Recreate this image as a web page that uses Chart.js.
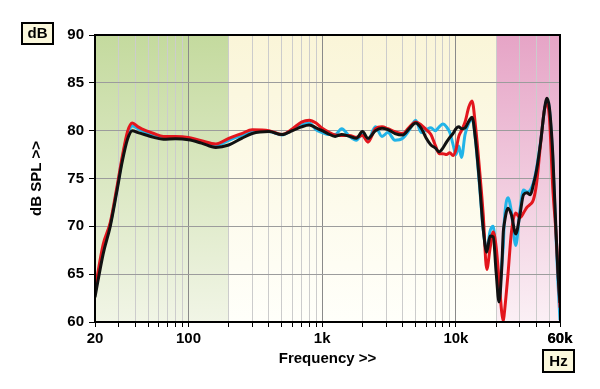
<!DOCTYPE html>
<html>
<head>
<meta charset="utf-8">
<script src="https://cdn.jsdelivr.net/npm/chart.js@4.4.1/dist/chart.umd.min.js"></script>
<style>
  html, body { margin: 0; padding: 0; background: #ffffff; }
  #wrap { width: 600px; height: 389px; position: relative; }
</style>
</head>
<body>
<div id="wrap"><canvas id="freqChart" width="600" height="389"></canvas></div>
<script>
// measured frequency response, three runs
const freqs = [20, 23, 26, 29, 32, 35, 38, 42, 48, 55, 65, 80, 100, 125, 160, 200, 250, 300, 400, 500,
  600, 700, 800, 900, 1000, 1100, 1250, 1400, 1600, 1800, 2000, 2200, 2500, 2800, 3100, 3500, 4000, 4500,
  5000, 5500, 6000, 6500, 7000, 7500, 8000, 8500, 9000, 9500, 10000, 10500, 11000, 11700, 12500, 13200,
  14000, 15000, 16000, 17000, 18000, 19000, 20000, 21000, 22000, 22600, 23000, 24500, 26000, 28000, 30000,
  32000, 34000, 36000, 38000, 40000, 43000, 46000, 48000, 50000, 53000, 56000, 58000, 60000];

const blackSpl = [62.6, 67.1, 70.0, 73.5, 76.8, 79.1, 80.0, 79.8, 79.55, 79.3, 79.1, 79.15, 79.05, 78.7, 78.25, 78.5, 79.2, 79.7, 79.9, 79.6,
  80.0, 80.4, 80.6, 80.3, 80.0, 79.7, 79.4, 79.6, 79.4, 79.2, 79.9, 79.2, 80.0, 80.25, 80.1, 79.7, 79.55, 80.25,
  80.8, 80.25, 79.2, 78.5, 78.2, 77.8, 78.2, 78.8, 79.3, 79.7, 80.2, 80.4, 80.2, 80.3, 81.0, 81.4,
  79.1, 74.6, 69.7, 67.3, 69.0, 68.9, 65.1, 62.1, 65.6, 69.4, 70.3, 71.9, 71.2, 69.2, 71.1,
  73.3, 73.5, 73.3, 74.4, 75.8, 78.8, 82.3, 83.4, 82.4, 77.5, 69.5, 65.0, 62.0];

const redSpl = [63.4, 68.1, 70.4, 73.9, 77.3, 79.9, 80.8, 80.4, 80.0, 79.7, 79.4, 79.4, 79.3, 78.95, 78.6, 79.2, 79.7, 80.1, 80.0, 79.6,
  80.2, 80.9, 81.1, 80.8, 80.25, 79.9, 79.55, 79.5, 79.5, 79.3, 79.5, 78.8, 80.2, 80.4, 80.2, 79.9, 79.7, 80.4,
  80.9, 80.6, 80.1, 79.6, 78.5, 77.6, 77.6, 77.5, 77.7, 77.4, 78.0, 79.4, 80.0, 80.9, 82.5, 83.1,
  80.5, 76.0, 71.2, 65.5, 67.7, 69.4, 67.8, 64.4, 61.0, 60.1, 60.9, 65.0, 69.4, 71.4, 70.9,
  71.4, 72.0, 72.3, 72.8, 74.4, 78.7, 82.3, 82.8, 81.4, 74.0, 69.3, 65.3, 61.5];

const blueSpl = [63.0, 67.6, 70.2, 73.7, 77.1, 79.6, 80.5, 80.2, 79.8, 79.55, 79.3, 79.3, 79.2, 78.85, 78.45, 79.0, 79.5, 79.9, 79.9, 79.55,
  80.1, 80.6, 80.8, 80.1, 79.8, 79.6, 79.6, 80.2, 79.4, 79.0, 79.7, 79.0, 80.4, 79.4, 79.8, 79.0, 79.2, 80.1,
  81.1, 79.8, 80.1, 80.3, 80.0, 80.4, 80.7, 80.4, 79.8, 78.6, 77.5, 78.4, 77.2, 79.6, 80.8, 81.3,
  79.0, 74.3, 69.6, 67.6, 69.5, 70.0, 66.5, 63.0, 66.0, 68.0, 70.5, 73.0, 71.5, 68.0, 71.5,
  73.8, 73.6, 73.8, 74.6, 76.0, 78.9, 82.3, 83.2, 82.2, 77.0, 69.0, 64.0, 60.2];

// axis labels
const xLabelValues = [20, 100, 1000, 10000, 60000];
const xLabelText = ['20', '100', '1k', '10k', '60k'];
const xMajorLines = [100, 1000, 10000];
const yTicks = [60, 65, 70, 75, 80, 85, 90];

// shaded frequency bands (Hz)
const bandEdges = [20, 200, 20000, 60000];

// grid lines at 20,30..90,100,200..
const xGrid = [];
for (let dec = 10; dec <= 10000; dec *= 10) {
  for (let m = 1; m <= 9; m++) {
    const v = m * dec;
    if (v >= 20 && v <= 60000) xGrid.push(v);
  }
}
xGrid.push(60000);

const FONT = '"Liberation Sans", Arial, sans-serif';

function toPoints(arr) {
  return freqs.map((f, i) => ({ x: f, y: arr[i] }));
}

function band(ctx, a, xa, xb, top, bottom) {
  const g = ctx.createLinearGradient(0, a.top, 0, a.bottom);
  g.addColorStop(0, top);
  g.addColorStop(1, bottom);
  ctx.fillStyle = g;
  ctx.fillRect(xa, a.top, xb - xa, a.bottom - a.top);
}

const bandsPlugin = {
  id: 'bands',
  beforeDraw(chart) {
    const { ctx, chartArea: a, scales: { x } } = chart;
    const px = bandEdges.map(v => x.getPixelForValue(v));
    ctx.save();
    band(ctx, a, px[0], px[1], '#c4da9e', '#f1f5e6');
    band(ctx, a, px[1], px[2], '#faf5d8', '#fffffa');
    band(ctx, a, px[2], px[3], '#e6a4c6', '#fbf0f5');
    ctx.restore();
  },
  afterDraw(chart) {
    const { ctx, chartArea: a } = chart;
    ctx.save();
    ctx.strokeStyle = '#000';
    ctx.lineWidth = 2;
    ctx.strokeRect(a.left, a.top, a.right - a.left, a.bottom - a.top);
    // unit boxes
    ctx.font = 'bold 15px ' + FONT;
    ctx.textAlign = 'center';
    ctx.textBaseline = 'middle';
    ctx.fillStyle = '#fbf8dc';
    ctx.fillRect(22, 23, 31, 21);
    ctx.strokeRect(22, 23, 31, 21);
    ctx.fillStyle = '#000';
    ctx.fillText('dB', 37.5, 34);
    ctx.fillStyle = '#fbf8dc';
    ctx.fillRect(543, 350, 31, 22);
    ctx.strokeRect(543, 350, 31, 22);
    ctx.fillStyle = '#000';
    ctx.fillText('Hz', 558.5, 361.5);
    ctx.restore();
  }
};

const ctx = document.getElementById('freqChart').getContext('2d');
const freqChart = new Chart(ctx, {
  type: 'line',
  data: {
    datasets: [
      { label: 'black', data: toPoints(blackSpl), borderColor: '#111111', borderWidth: 3 },
      { label: 'red', data: toPoints(redSpl), borderColor: '#e3161d', borderWidth: 3 },
      { label: 'blue', data: toPoints(blueSpl), borderColor: '#22b4e8', borderWidth: 3 }
    ]
  },
  options: {
    responsive: false,
    animation: false,
    layout: { padding: { left: 0, right: 40, top: 35, bottom: 0 } },
    elements: {
      point: { radius: 0 },
      line: { cubicInterpolationMode: 'monotone', fill: false }
    },
    plugins: { legend: { display: false }, tooltip: { enabled: false } },
    scales: {
      x: {
        type: 'logarithmic',
        min: 20,
        max: 60000,
        afterBuildTicks: (scale) => { scale.ticks = xGrid.map(v => ({ value: v })); },
        afterFit: (scale) => { scale.height = 67; },
        grid: {
          color: (c) => (c.tick && xMajorLines.includes(c.tick.value)) ? '#8a8a8a' : '#cccccc',
          lineWidth: 1,
          tickColor: '#000',
          tickLength: 5
        },
        border: { color: '#000', width: 2 },
        ticks: {
          autoSkip: false,
          maxRotation: 0,
          padding: 3,
          color: '#000',
          font: { family: FONT, size: 15, weight: 'bold' },
          callback: (v) => {
            const i = xLabelValues.indexOf(v);
            return i >= 0 ? xLabelText[i] : '';
          }
        },
        title: {
          display: true,
          text: 'Frequency >>',
          color: '#000',
          font: { family: FONT, size: 15, weight: 'bold' },
          padding: { top: 0, bottom: 21 }
        }
      },
      y: {
        min: 60,
        max: 90,
        afterBuildTicks: (scale) => { scale.ticks = yTicks.map(v => ({ value: v })); },
        afterFit: (scale) => { scale.width = 95; },
        grid: { color: '#9c9c9c', lineWidth: 1, tickColor: '#000', tickLength: 6 },
        border: { color: '#000', width: 2 },
        ticks: {
          padding: 5,
          color: '#000',
          font: { family: FONT, size: 15, weight: 'bold' }
        },
        title: {
          display: true,
          text: 'dB SPL >>',
          color: '#000',
          font: { family: FONT, size: 15, weight: 'bold' },
          padding: { top: 28, bottom: 0 }
        }
      }
    }
  },
  plugins: [bandsPlugin]
});
</script>
</body>
</html>
